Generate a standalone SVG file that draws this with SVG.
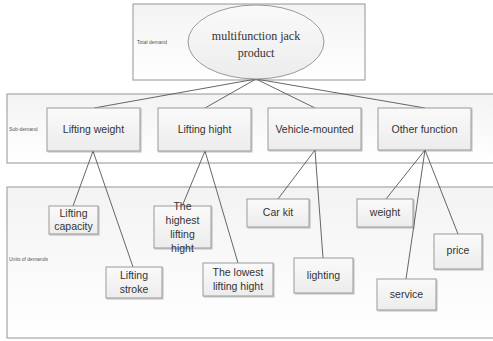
<svg xmlns="http://www.w3.org/2000/svg" width="493" height="341" viewBox="0 0 493 341">
<defs>
<linearGradient id="bandG" x1="0" y1="0" x2="0" y2="1">
<stop offset="0" stop-color="#f3f3f3"/><stop offset="1" stop-color="#ffffff"/>
</linearGradient>
<linearGradient id="boxG" x1="0" y1="0" x2="0" y2="1">
<stop offset="0" stop-color="#fafafa"/><stop offset="1" stop-color="#ececec"/>
</linearGradient>
<filter id="sh" x="-10%" y="-10%" width="130%" height="130%">
<feDropShadow dx="1" dy="1" stdDeviation="0.6" flood-color="#000" flood-opacity="0.25"/>
</filter>
</defs>
<style>
.band{fill:url(#bandG);stroke:#a6a6a6;stroke-width:1.2}
.box{fill:url(#boxG);stroke:#9a9a9a;stroke-width:1;filter:url(#sh)}
.t{font-family:"Liberation Sans",Arial,sans-serif;font-size:10.5px;fill:#333;text-anchor:middle}
.s{font-family:"Liberation Sans",Arial,sans-serif;font-size:5px;fill:#555}
.serif{font-family:"Liberation Serif","Times New Roman",serif;font-size:12px;fill:#333;text-anchor:middle}
.c line{stroke:#555;stroke-width:0.9}
</style>
<rect width="493" height="341" fill="#fff"/>
<g id="bands">
<rect class="band" x="133" y="4" width="232" height="76"/>
<rect class="band" x="7" y="94" width="490" height="69"/>
<rect class="band" x="7" y="187" width="490" height="151"/>
<text class="s" x="137" y="44">Total demand</text>
<text class="s" x="9" y="131">Sub-demand</text>
<text class="s" x="9" y="261">Units of demands</text>
</g>
<g class="c" id="connectors">
<line x1="256" y1="79" x2="94" y2="108"/>
<line x1="256" y1="79" x2="205" y2="108"/>
<line x1="256" y1="79" x2="315" y2="108"/>
<line x1="256" y1="79" x2="425" y2="108"/>
<line x1="93" y1="151" x2="73" y2="206"/>
<line x1="93" y1="151" x2="133" y2="267"/>
<line x1="205" y1="151" x2="183" y2="204"/>
<line x1="205" y1="151" x2="238" y2="263"/>
<line x1="315" y1="150" x2="278" y2="199"/>
<line x1="315" y1="150" x2="323" y2="258"/>
<line x1="425" y1="150" x2="386" y2="199"/>
<line x1="425" y1="150" x2="406" y2="279"/>
<line x1="425" y1="150" x2="458" y2="234"/>
</g>
<g id="root">
<ellipse cx="256" cy="42" rx="68" ry="37" fill="url(#boxG)" stroke="#9a9a9a" stroke-width="1"/>
<text class="serif" x="256" y="40">multifunction jack</text>
<text class="serif" x="256" y="57">product</text>
</g>
<g id="lifting-weight"><rect class="box" x="47" y="108" width="93" height="43"/><text class="t" x="93.5" y="133">Lifting weight</text></g>
<g id="lifting-hight"><rect class="box" x="158" y="108" width="93" height="43"/><text class="t" x="204.5" y="133">Lifting hight</text></g>
<g id="vehicle-mounted"><rect class="box" x="268" y="108" width="93" height="42"/><text class="t" x="314.5" y="133">Vehicle-mounted</text></g>
<g id="other-function"><rect class="box" x="378" y="108" width="93" height="42"/><text class="t" x="424.5" y="133">Other function</text></g>
<g id="lifting-capacity"><rect class="box" x="49" y="206" width="49" height="28"/><text class="t" x="73.5" y="217">Lifting</text><text class="t" x="73.5" y="230">capacity</text></g>
<g id="lifting-stroke"><rect class="box" x="106" y="267" width="56" height="31"/><text class="t" x="134" y="279">Lifting</text><text class="t" x="134" y="293">stroke</text></g>
<g id="highest"><rect class="box" x="154" y="206" width="57" height="42"/><text class="t" x="182.5" y="210">The</text><text class="t" x="182.5" y="224">highest</text><text class="t" x="182.5" y="238">lifting</text><text class="t" x="182.5" y="252">hight</text></g>
<g id="lowest"><rect class="box" x="203" y="263" width="70" height="33"/><text class="t" x="238" y="276">The lowest</text><text class="t" x="238" y="290">lifting hight</text></g>
<g id="car-kit"><rect class="box" x="247" y="199" width="62" height="28"/><text class="t" x="278" y="216">Car kit</text></g>
<g id="lighting"><rect class="box" x="294" y="258" width="59" height="35"/><text class="t" x="323.5" y="279">lighting</text></g>
<g id="weight"><rect class="box" x="357" y="199" width="56" height="28"/><text class="t" x="385" y="216">weight</text></g>
<g id="price"><rect class="box" x="434" y="234" width="48" height="35"/><text class="t" x="458" y="254">price</text></g>
<g id="service"><rect class="box" x="377" y="279" width="59" height="31"/><text class="t" x="406.5" y="298">service</text></g>
</svg>
